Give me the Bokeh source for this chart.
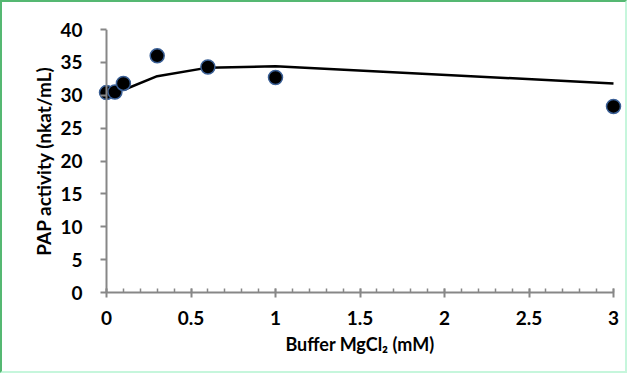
from bokeh.plotting import figure
from bokeh.embed import file_html
from bokeh.resources import INLINE
from bokeh.models import Range1d, FixedTicker, Span

# data
mgcl2_mM = [0, 0.05, 0.1, 0.3, 0.6, 1.0, 3.0]
pap_activity = [30.4, 30.5, 31.8, 36.0, 34.3, 32.7, 28.3]
fit_x = [0.1, 0.3, 0.6, 1.0, 3.0]
fit_y = [30.8, 32.9, 34.2, 34.4, 31.8]
x_ticks = [0, 0.5, 1, 1.5, 2, 2.5, 3]
x_minor = [round(i * 0.1, 1) for i in range(31)]
y_ticks = [0, 5, 10, 15, 20, 25, 30, 35, 40]

FONT = "Lato"
AXC = "#878787"
PAD = 10 / 169  # room so end markers are not clipped

p = figure(width=627, height=373, output_backend="svg", toolbar_location=None,
           x_range=Range1d(-PAD, 3 + PAD), y_range=Range1d(0, 40),
           min_border_left=94, min_border_right=6, min_border_top=27, min_border_bottom=83)
p.styles = {"border-top": "2px solid #55b872", "border-left": "2px solid #55b872",
            "border-right": "2px solid #c6f6dc", "border-bottom": "2px solid #c6f6dc"}
p.outline_line_color = None
p.grid.visible = False

p.xaxis.ticker = FixedTicker(ticks=x_ticks, minor_ticks=x_minor)
p.yaxis.ticker = FixedTicker(ticks=y_ticks, minor_ticks=[])
p.xaxis.major_label_overrides = {0: "0", 0.5: "0.5", 1: "1", 1.5: "1.5", 2: "2", 2.5: "2.5", 3: "3"}
p.xaxis.bounds = (0, 3)

for ax in (p.xaxis, p.yaxis):
    ax.axis_line_color = AXC
    ax.axis_line_width = 2
    ax.major_tick_line_color = AXC
    ax.major_tick_line_width = 2
    ax.minor_tick_line_color = AXC
    ax.minor_tick_line_width = 1.5
    ax.major_label_text_font = FONT
    ax.major_label_text_font_style = "bold"
    ax.major_label_text_font_size = "19px"
    ax.major_label_text_color = "#000000"
    ax.axis_label_text_font = FONT
    ax.axis_label_text_font_style = "bold"
    ax.axis_label_text_color = "#000000"

p.xaxis.axis_label_text_font_size = "18px"
p.yaxis.axis_label_text_font_size = "19px"

p.xaxis.major_tick_out = 5
p.xaxis.major_tick_in = 4
p.xaxis.minor_tick_in = 4
p.xaxis.minor_tick_out = 0
p.xaxis.major_label_standoff = 13
p.xaxis.axis_label = "Buffer MgCl₂ (mM)"
p.xaxis.axis_label_standoff = 5

# y axis at the frame edge; its ticks reach in to x = 0
p.yaxis.axis_line_color = None
p.yaxis.major_tick_out = -4
p.yaxis.major_tick_in = 10
p.yaxis.minor_tick_in = 0
p.yaxis.minor_tick_out = 0
p.yaxis.major_label_standoff = 14
p.yaxis.axis_label = "PAP activity (nkat/mL)"
p.yaxis.axis_label_standoff = 2

# axis line at x = 0
p.add_layout(Span(location=0, dimension="height", line_color=AXC, line_width=2))

p.line(fit_x, fit_y, line_color="black", line_width=2.5)
p.scatter(mgcl2_mM, pap_activity, size=14, fill_color="black",
          line_color="#3a5f95", line_width=1.5)

open("out.html", "w").write(file_html(p, INLINE))
